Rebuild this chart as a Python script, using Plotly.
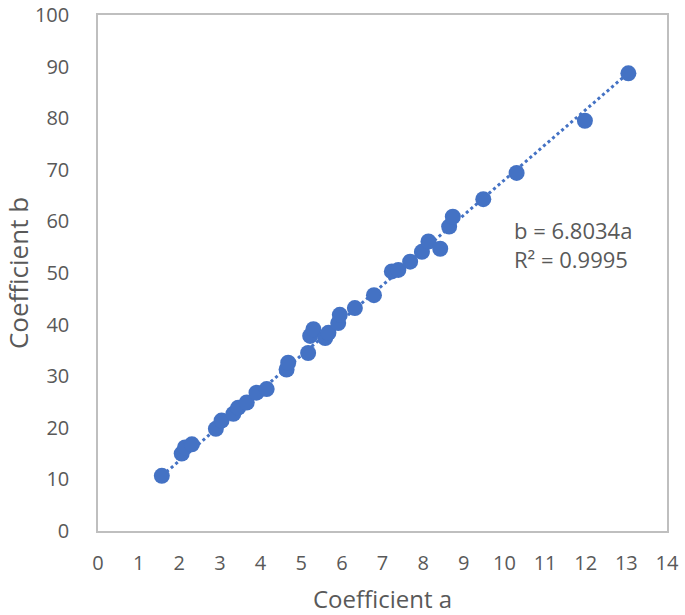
import plotly.graph_objects as go

coef_a = [1.57, 2.06, 2.14, 2.31, 2.90, 3.04, 3.33, 3.45, 3.66, 3.90, 4.15, 4.64, 4.68,
          5.17, 5.22, 5.30, 5.59, 5.67, 5.91, 5.95, 6.32, 6.79, 7.23, 7.39, 7.68, 7.97,
          8.13, 8.42, 8.64, 8.73, 9.48, 10.30, 11.98, 13.05]
coef_b = [10.7, 15.0, 16.2, 16.8, 19.8, 21.4, 22.7, 23.9, 24.9, 26.8, 27.5, 31.3, 32.6,
          34.5, 37.8, 39.1, 37.4, 38.4, 40.3, 41.9, 43.2, 45.7, 50.3, 50.6, 52.2, 54.1,
          56.1, 54.7, 59.0, 60.9, 64.3, 69.4, 79.5, 88.7]
slope = 6.8034
r2 = 0.9995

blue = "#4472C4"
gray_text = "#595959"
font_family = "Open Sans"

trend_x = [min(coef_a), max(coef_a)]
trend_y = [slope * v for v in trend_x]

fig = go.Figure()
fig.add_trace(go.Scatter(x=trend_x, y=trend_y, mode="lines",
                         line=dict(color=blue, width=3, dash="dot"),
                         hoverinfo="skip", showlegend=False))
fig.add_trace(go.Scatter(x=coef_a, y=coef_b, mode="markers",
                         marker=dict(color=blue, size=16, line=dict(width=0)),
                         showlegend=False))

fig.add_annotation(x=10.19, y=55.5, xref="x", yref="y", xanchor="left", yanchor="middle",
                   text=f"b = {slope}a<br>R² = {r2}", showarrow=False, align="left",
                   font=dict(family=font_family, size=22, color=gray_text))

axis_common = dict(showgrid=False, zeroline=False, showline=True, mirror=True,
                   linecolor="#BFBFBF", linewidth=1.5, ticks="", automargin=False,
                   ticklabeloverflow="allow",
                   tickfont=dict(family=font_family, size=20, color=gray_text))

fig.update_xaxes(range=[0, 14], dtick=1, tick0=0, ticklabelstandoff=13,
                 title=dict(text="Coefficient a", standoff=20,
                            font=dict(family=font_family, size=24, color=gray_text)),
                 **axis_common)
fig.update_yaxes(range=[0, 100], dtick=10, tick0=0, ticklabelstandoff=23,
                 title=dict(text="Coefficient b", standoff=28,
                            font=dict(family=font_family, size=26, color=gray_text)),
                 **axis_common)

fig.update_layout(width=685, height=615, plot_bgcolor="white", paper_bgcolor="white",
                  margin=dict(l=98, r=18, t=15, b=84))

fig.write_html("out.html", config={"displayModeBar": False},
               post_script="document.body.style.margin='0';")
